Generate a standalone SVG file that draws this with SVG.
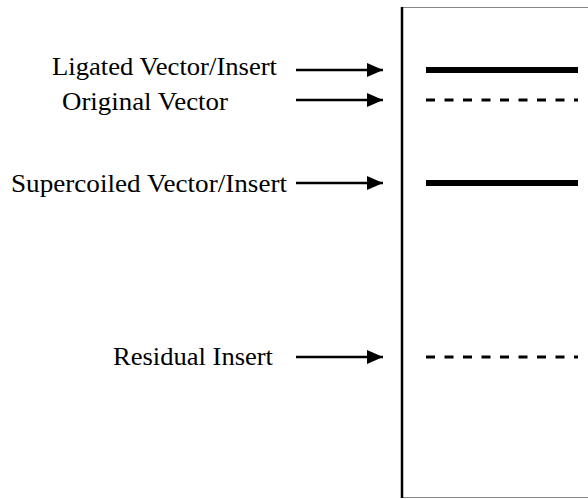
<svg xmlns="http://www.w3.org/2000/svg" width="588" height="499" viewBox="0 0 588 499">
<style>
text{font-family:"Liberation Serif","Times New Roman",serif;font-size:26px;fill:#000}
.arr{stroke:#000;stroke-width:2.5;fill:none}
.band{stroke:#000;stroke-width:6}
.dash{stroke:#000;stroke-width:3;stroke-dasharray:9 9.5}
</style>
<defs>
<marker id="ah" markerUnits="userSpaceOnUse" markerWidth="17" markerHeight="16" refX="16" refY="8" orient="auto">
<path d="M0,1 L16,8 L0,15 Z" fill="#000"/>
</marker>
</defs>
<rect width="588" height="499" fill="#fff"/>
<g id="gel">
<line x1="402" y1="7.5" x2="588" y2="7.5" stroke="#888" stroke-width="1"/>
<line x1="402" y1="497.5" x2="588" y2="497.5" stroke="#888" stroke-width="1"/>
<line x1="402" y1="7" x2="402" y2="498" stroke="#000" stroke-width="2.5"/>
</g>
<g id="band-ligated"><line class="band" x1="426" y1="70" x2="578" y2="70"/></g>
<g id="band-original"><line class="dash" x1="426" y1="100" x2="578" y2="100"/></g>
<g id="band-supercoiled"><line class="band" x1="426" y1="183" x2="578" y2="183"/></g>
<g id="band-residual"><line class="dash" x1="426" y1="357" x2="578" y2="357"/></g>
<g id="label-ligated"><text x="52" y="75" textLength="225" lengthAdjust="spacingAndGlyphs">Ligated Vector/Insert</text></g>
<g id="label-original"><text x="62" y="110" textLength="166" lengthAdjust="spacingAndGlyphs">Original Vector</text></g>
<g id="label-supercoiled"><text x="11" y="192" textLength="276" lengthAdjust="spacingAndGlyphs">Supercoiled Vector/Insert</text></g>
<g id="label-residual"><text x="113" y="365" textLength="160" lengthAdjust="spacingAndGlyphs">Residual Insert</text></g>
<g id="connectors">
<line class="arr" x1="296" y1="70" x2="383" y2="70" marker-end="url(#ah)"/>
<line class="arr" x1="296" y1="100" x2="383" y2="100" marker-end="url(#ah)"/>
<line class="arr" x1="296" y1="183" x2="383" y2="183" marker-end="url(#ah)"/>
<line class="arr" x1="296" y1="357" x2="383" y2="357" marker-end="url(#ah)"/>
</g>
</svg>
